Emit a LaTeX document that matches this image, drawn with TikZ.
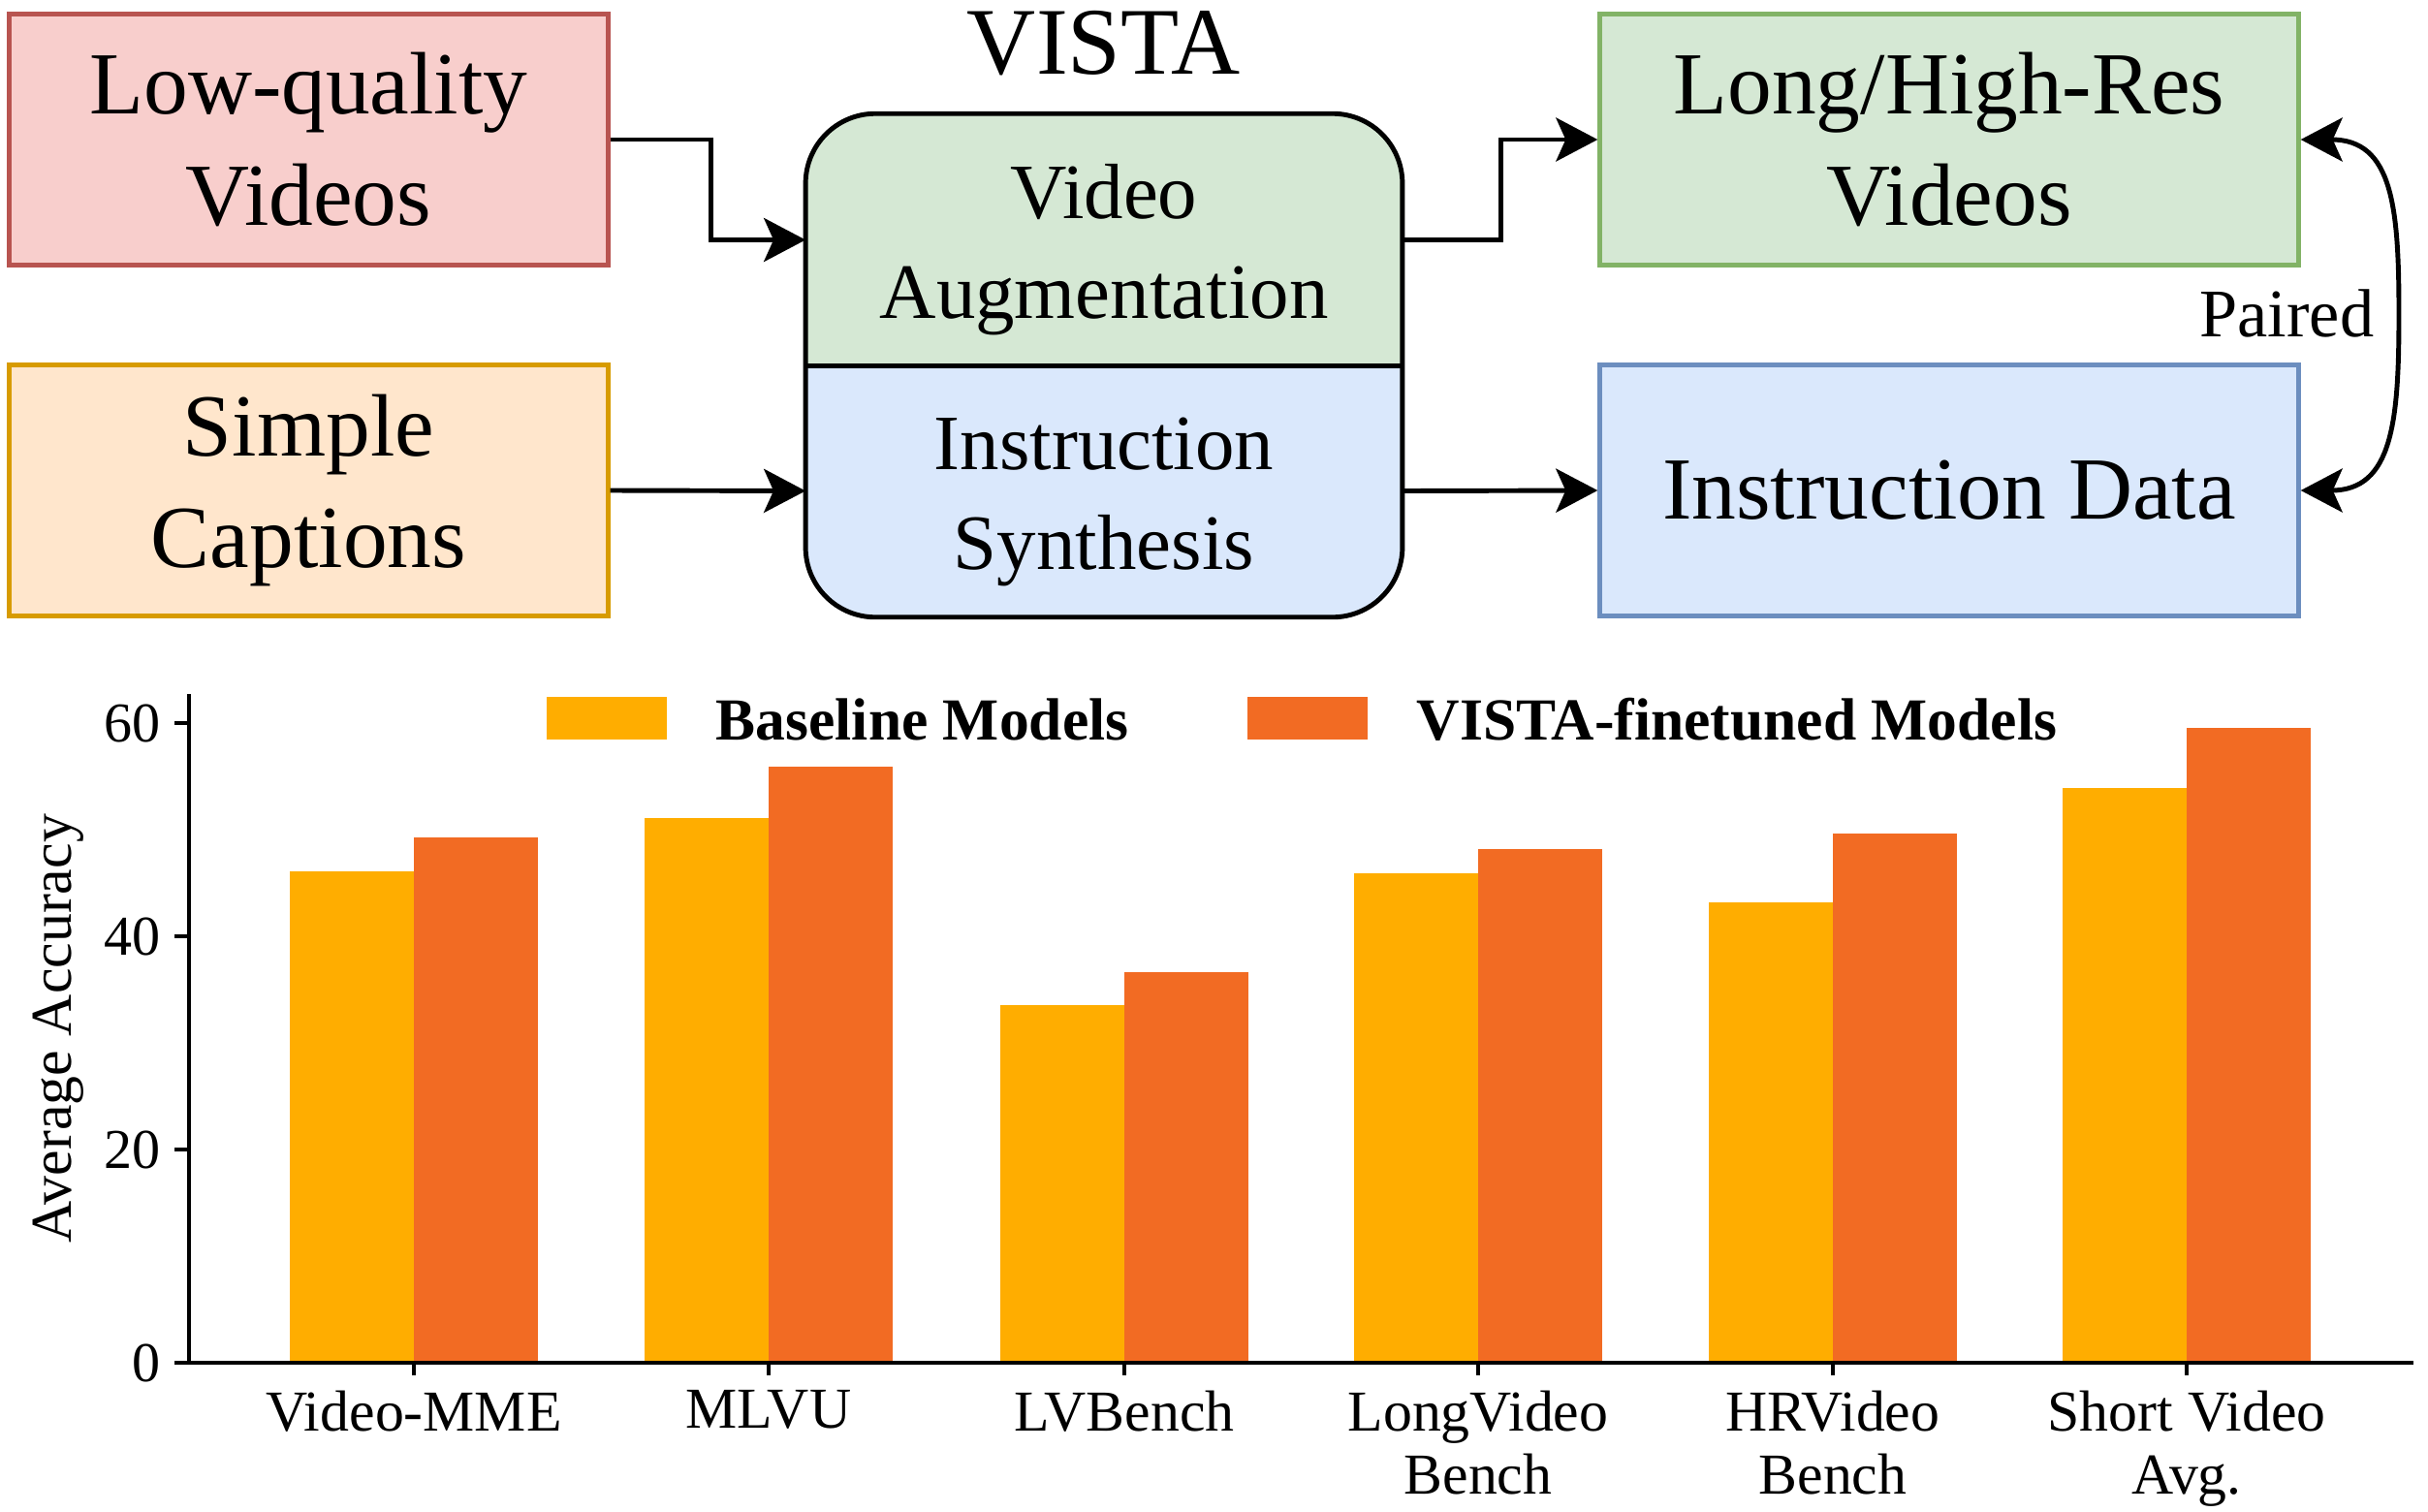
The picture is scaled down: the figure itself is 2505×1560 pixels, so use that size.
\documentclass[tikz,border=0pt]{standalone}
\usepackage{xcolor}
\usepackage{fontspec}
\setmainfont{Liberation Serif}
\usepackage{tikz}
\usetikzlibrary{arrows.meta}
\usetikzlibrary{positioning}
\usetikzlibrary{backgrounds}
\definecolor{redfill}{HTML}{F8CECC}
\definecolor{redline}{HTML}{B85450}
\definecolor{orangefill}{HTML}{FFE6CC}
\definecolor{orangeline}{HTML}{D79B00}
\definecolor{greenfill}{HTML}{D5E8D4}
\definecolor{greenline}{HTML}{82B366}
\definecolor{bluefill}{HTML}{DAE8FC}
\definecolor{blueline}{HTML}{6C8EBF}
\definecolor{basecol}{HTML}{FFAD00}
\definecolor{vistacol}{HTML}{F26B23}
\newcommand{\topstrut}{\rule{0pt}{22pt}}
\tikzset{>={Stealth[length=0.43cm, width=0.45cm, inset=0.1cm]}}
\tikzstyle{srcbox} = [rectangle, line width=1.4pt, minimum width=6.17cm, minimum height=2.58cm, align=center, font=\fontsize{26}{32.5}\selectfont]
\tikzstyle{dstbox} = [srcbox, minimum width=7.2cm]
\tikzstyle{midpart} = [rectangle, minimum width=6.14cm, minimum height=2.59cm, inner sep=0pt, align=center, font=\fontsize{23}{29.3}\selectfont]
\tikzstyle{flow} = [->, line width=1.4pt]
\tikzstyle{axisline} = [line width=1.4pt]
\tikzstyle{ticklbl} = [inner sep=0pt, anchor=east, font=\fontsize{16.5}{19}\selectfont]
\tikzstyle{catlbl} = [inner sep=0pt, anchor=north, align=center, font=\fontsize{17}{18.5}\selectfont]
\tikzstyle{legtxt} = [inner sep=0pt, anchor=base west, font=\bfseries\fontsize{17.5}{20}\selectfont]

\begin{document}
\begin{tikzpicture}[x=0.01cm, y=-0.01cm]
\useasboundingbox (0,0) rectangle (2505,1560);
% pipeline
\node [srcbox, draw=redline, fill=redfill] (low) at (318.5,144) {Low-quality\\Videos};
\node [srcbox, draw=orangeline, fill=orangefill] (cap) at (318.5,506) {Simple\\Captions};
\node [midpart] (aug) at (1139,247.5) {\topstrut Video\\Augmentation};
\node [midpart] (syn) at (1139,506.5) {\topstrut Instruction\\Synthesis};
\node [dstbox, draw=greenline, fill=greenfill] (long) at (2011,144) {Long/High-Res\\Videos};
\node [dstbox, draw=blueline, fill=bluefill] (inst) at (2011,506) {Instruction Data};
\node [anchor=base, font=\fontsize{28}{34}\selectfont] (vista) at (1139,76) {VISTA};
\begin{scope}[on background layer]
\clip [rounded corners=0.72cm] (aug.north west) rectangle (syn.south east);
\fill [greenfill] (aug.north west) rectangle (aug.south east);
\fill [bluefill] (syn.north west) rectangle (syn.south east);
\end{scope}
\draw [line width=1.4pt, rounded corners=0.72cm] (aug.north west) rectangle (syn.south east);
\draw [line width=1.4pt] (aug.south west) -- (aug.south east);
\draw [flow] (low.east) -- ++(104,0) |- (aug.west);
\draw [flow] (cap.east) -- (syn.west);
\draw [flow] (aug.east) -- ++(102,0) |- (long.west);
\draw [flow] (syn.east) -- (inst.west);
\coordinate (pairmid) at (2475,324);
\draw [flow, <->] (long.east) .. controls +(95,0) and +(0,-110) .. (pairmid) .. controls +(0,110) and +(95,0) .. (inst.east);
\node [anchor=base east, inner sep=0pt, font=\fontsize{20}{24}\selectfont] (paired) at (2450,347) {Paired};
% bar chart
\fill [basecol] (299,1406) rectangle (427,899);
\fill [vistacol] (427,1406) rectangle (555,864);
\fill [basecol] (665,1406) rectangle (793,844);
\fill [vistacol] (793,1406) rectangle (921,791);
\fill [basecol] (1032,1406) rectangle (1160,1037);
\fill [vistacol] (1160,1406) rectangle (1288,1003);
\fill [basecol] (1397,1406) rectangle (1525,901);
\fill [vistacol] (1525,1406) rectangle (1653,876);
\fill [basecol] (1763,1406) rectangle (1891,931);
\fill [vistacol] (1891,1406) rectangle (2019,860);
\fill [basecol] (2128,1406) rectangle (2256,813);
\fill [vistacol] (2256,1406) rectangle (2384,751);
\draw [axisline] (195,716) -- (195,1406) -- (2490,1406);
\draw [axisline] (180,1406) -- (195,1406);
\draw [axisline] (180,1186) -- (195,1186);
\draw [axisline] (180,966) -- (195,966);
\draw [axisline] (180,746) -- (195,746);
\node [ticklbl] (y0) at (166,1406) {0};
\node [ticklbl] (y20) at (166,1186) {20};
\node [ticklbl] (y40) at (166,966) {40};
\node [ticklbl] (y60) at (166,746) {60};
\node [rotate=90, inner sep=0pt, font=\fontsize{17}{20}\selectfont] (ylab) at (60,1061) {Average Accuracy};
\draw [axisline] (427,1406) -- (427,1419);
\draw [axisline] (793,1406) -- (793,1419);
\draw [axisline] (1160,1406) -- (1160,1419);
\draw [axisline] (1525,1406) -- (1525,1419);
\draw [axisline] (1891,1406) -- (1891,1419);
\draw [axisline] (2256,1406) -- (2256,1419);
\node [catlbl] (mme) at (427,1434) {Video-MME};
\node [catlbl] (mlvu) at (793,1434) {MLVU};
\node [catlbl] (lvb) at (1160,1434) {LVBench};
\node [catlbl] (lvideo) at (1525,1434) {LongVideo\\Bench};
\node [catlbl] (hrvideo) at (1891,1434) {HRVideo\\Bench};
\node [catlbl] (short) at (2256,1434) {Short Video\\Avg.};
% legend
\fill [basecol] (564,719) rectangle (688,763);
\node [legtxt] (legbase) at (738,763) {Baseline Models};
\fill [vistacol] (1287,719) rectangle (1411,763);
\node [legtxt] (legvista) at (1461,763) {VISTA-finetuned Models};
\end{tikzpicture}
\end{document}
